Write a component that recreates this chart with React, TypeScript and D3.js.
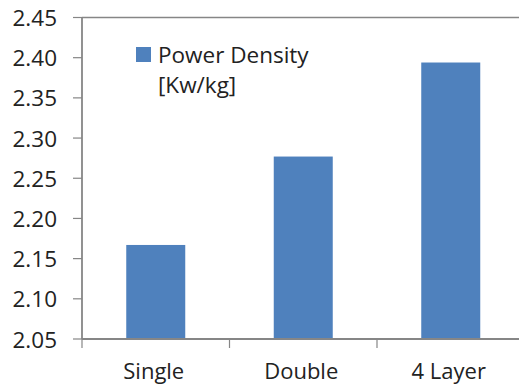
import * as d3 from "d3";

const categories = ["Single", "Double", "4 Layer"];
const powerDensity = [2.167, 2.277, 2.394];
const yTickValues = [2.05, 2.1, 2.15, 2.2, 2.25, 2.3, 2.35, 2.4, 2.45];
const seriesName = ["Power Density", "[Kw/kg]"];

export default function App() {
    const width = 519;
    const height = 388;
    const margin = { top: 17.5, right: -5.5, bottom: 49, left: 82 };
    const font = "'Open Sans', 'DejaVu Sans', sans-serif";
    const textColor = "#222";
    const axisColor = "#868686";
    const barColor = "#4f81bd";

    const xScale = d3
        .scaleBand()
        .domain(categories)
        .range([margin.left, width - margin.right])
        .paddingInner(0.6)
        .paddingOuter(0.3);

    const yScale = d3
        .scaleLinear()
        .domain([2.05, 2.45])
        .range([height - margin.bottom, margin.top]);

    const step = xScale.step();
    const bottom = height - margin.bottom;

    return (
        <svg
            width={width}
            height={height}
            style={{ position: "absolute", left: 0, top: 0, background: "#fff" }}
            fontFamily={font}
        >
            {/* top border of plot area */}
            <line
                x1={margin.left}
                x2={width}
                y1={yScale(2.45)}
                y2={yScale(2.45)}
                stroke={axisColor}
                strokeWidth={1.5}
            />

            {yTickValues.map((tick) => (
                <g key={tick}>
                    <line
                        x1={margin.left - 9}
                        x2={margin.left}
                        y1={yScale(tick)}
                        y2={yScale(tick)}
                        stroke={axisColor}
                        strokeWidth={1.2}
                    />
                    <text
                        x={57}
                        y={yScale(tick)}
                        textAnchor="end"
                        dominantBaseline="central"
                        fontSize="22.5"
                        fill={textColor}
                    >
                        {tick.toFixed(2)}
                    </text>
                </g>
            ))}

            {categories.map((c, i) => {
                const x = xScale(c) ?? 0;
                const bw = xScale.bandwidth();
                const y = yScale(powerDensity[i]);
                return (
                    <g key={c}>
                        <rect x={x} y={y} width={bw} height={bottom - y} fill={barColor} />
                        <text
                            x={x + bw / 2 - 2}
                            y={379}
                            textAnchor="middle"
                            fontSize="22"
                            fill={textColor}
                        >
                            {c}
                        </text>
                    </g>
                );
            })}

            {/* category tick marks */}
            {d3.range(categories.length + 1).map((i) => (
                <line
                    key={i}
                    x1={margin.left + i * step}
                    x2={margin.left + i * step}
                    y1={bottom}
                    y2={bottom + 9}
                    stroke={axisColor}
                    strokeWidth={1.2}
                />
            ))}

            {/* axes */}
            <line x1={margin.left} x2={margin.left} y1={yScale(2.45)} y2={bottom} stroke={axisColor} strokeWidth={1.8} />
            <line x1={margin.left} x2={width} y1={bottom} y2={bottom} stroke={axisColor} strokeWidth={1.8} />

            {/* legend */}
            <rect x={136} y={47} width={15} height={15} fill={barColor} />
            {seriesName.map((s, i) => (
                <text key={s} x={158} y={63 + i * 30} fontSize="22.5" fill={textColor}>
                    {s}
                </text>
            ))}
        </svg>
    );
}
